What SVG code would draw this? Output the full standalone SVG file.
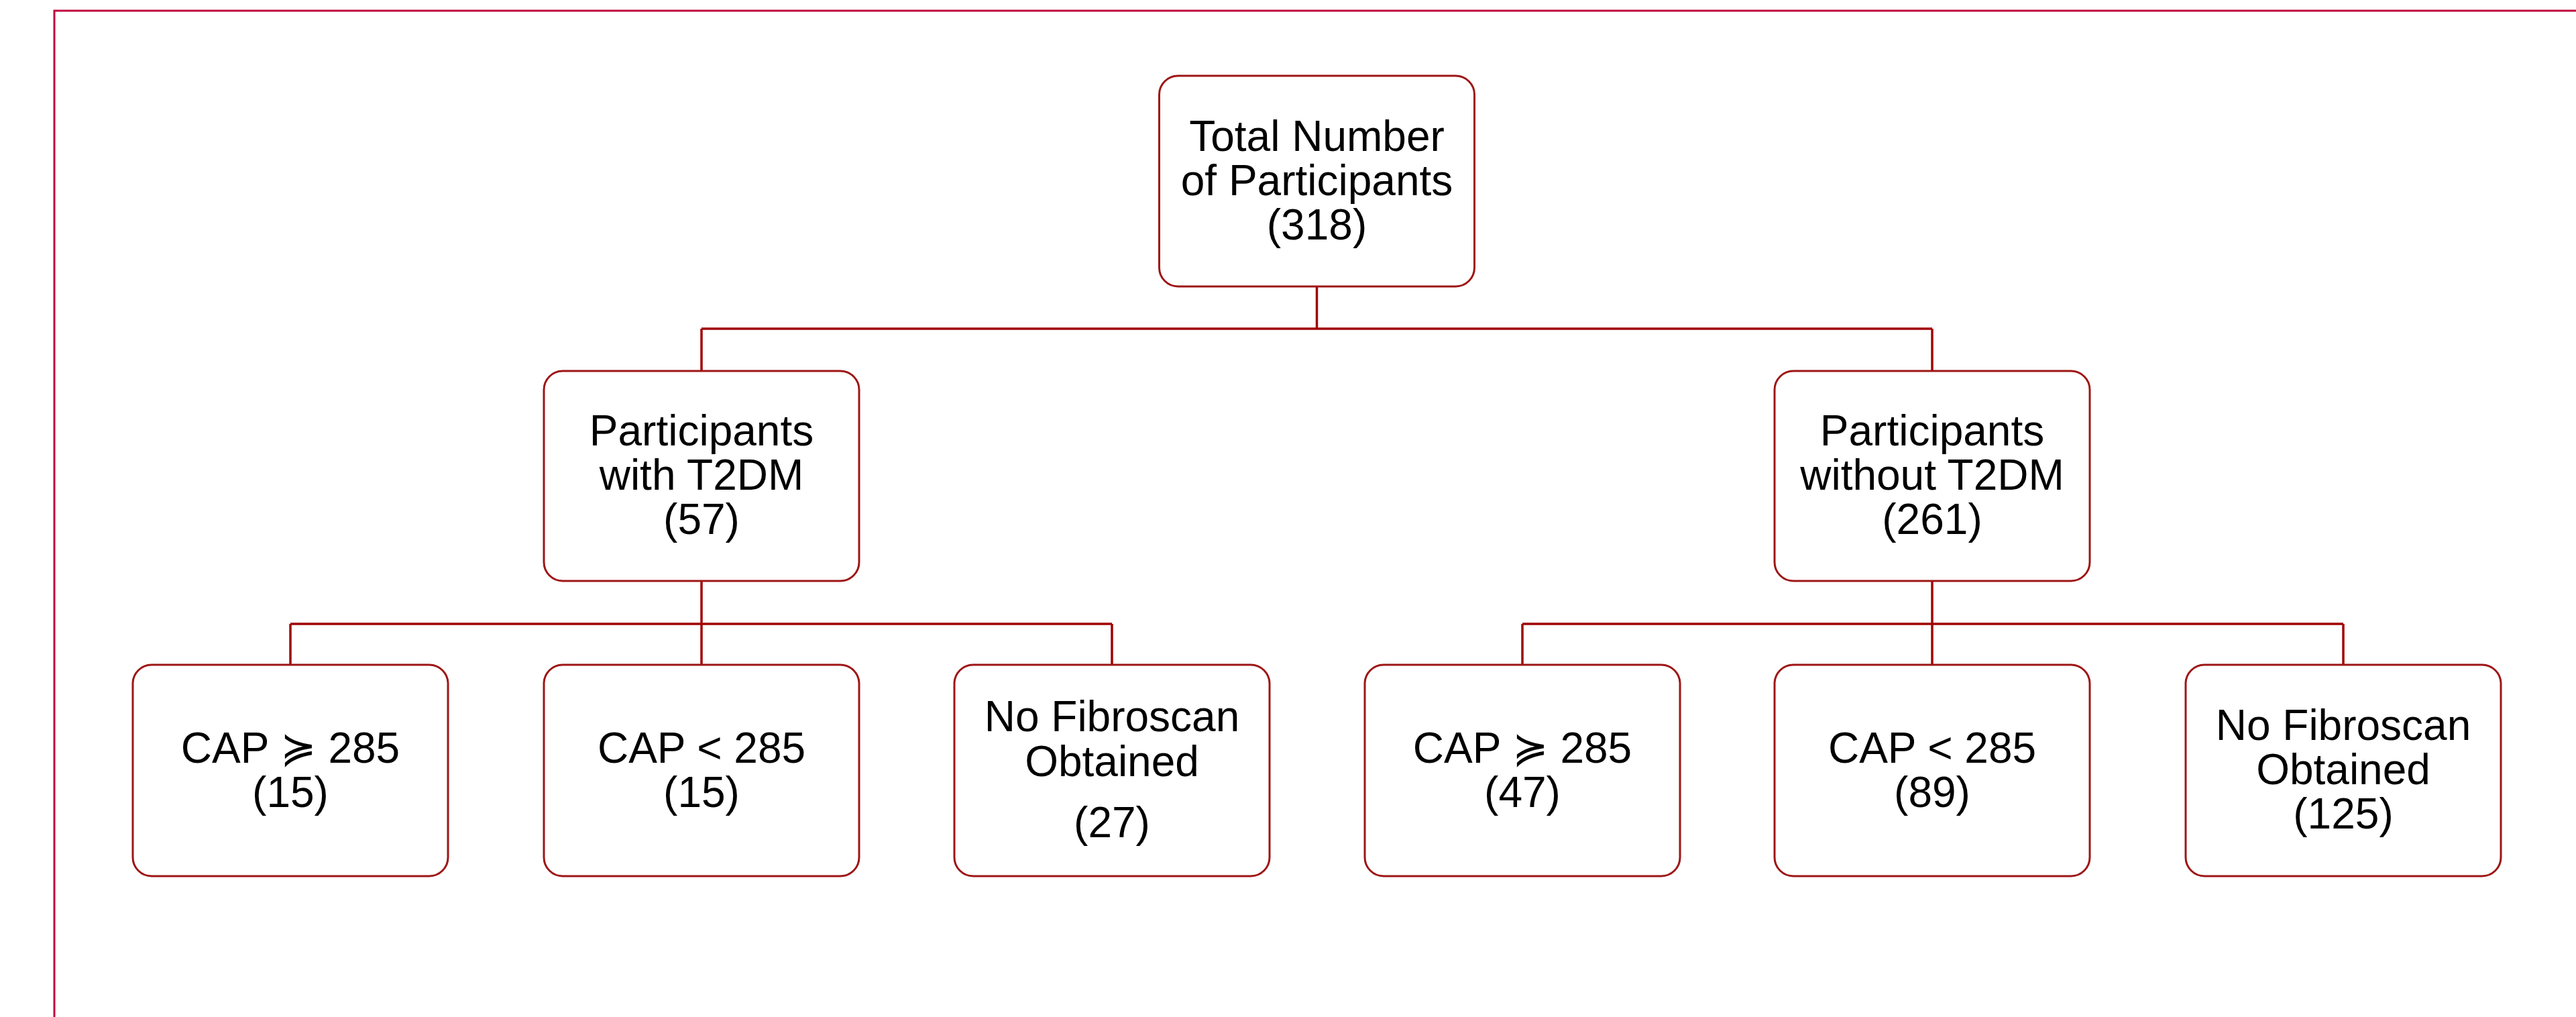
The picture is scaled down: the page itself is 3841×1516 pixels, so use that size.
<svg xmlns="http://www.w3.org/2000/svg" width="3841" height="1516" viewBox="0 0 3841 1516">
<style>
.box{fill:#ffffff;stroke:#9e1616;stroke-width:3}
.con{fill:none;stroke:#a00000;stroke-width:3.5}
.lbl{font-family:"Liberation Sans","DejaVu Sans",Arial,sans-serif;font-size:64px;fill:#000000;text-anchor:middle}
</style>
<rect width="3841" height="1516" fill="#ffffff"/>
<path d="M81 1516 V16 H3841" fill="none" stroke="#c0083e" stroke-width="3"/>
<g id="connectors">
<path class="con" d="M1963.5 427 V490 M1046 490 H2881 M1046 490 V553 M2881 490 V553"/>
<path class="con" d="M1046 866 V930 M433 930 H1658 M433 930 V991 M1046 930 V991 M1658 930 V991"/>
<path class="con" d="M2881 866 V930 M2270 930 H3494 M2270 930 V991 M2881 930 V991 M3494 930 V991"/>
</g>
<g id="n-total">
<rect class="box" x="1728.5" y="113" width="470" height="314" rx="28"/>
<text class="lbl" x="1963.5" y="225">Total Number</text>
<text class="lbl" x="1963.5" y="291">of Participants</text>
<text class="lbl" x="1963.5" y="357">(318)</text>
</g>
<g id="n-with">
<rect class="box" x="811" y="553" width="470" height="313" rx="28"/>
<text class="lbl" x="1046" y="664">Participants</text>
<text class="lbl" x="1046" y="730">with T2DM</text>
<text class="lbl" x="1046" y="796">(57)</text>
</g>
<g id="n-without">
<rect class="box" x="2646" y="553" width="470" height="313" rx="28"/>
<text class="lbl" x="2881" y="664">Participants</text>
<text class="lbl" x="2881" y="730">without T2DM</text>
<text class="lbl" x="2881" y="796">(261)</text>
</g>
<g id="n-w-cap-hi">
<rect class="box" x="198" y="991" width="470" height="315" rx="28"/>
<text class="lbl" x="433" y="1137">CAP ≽ 285</text>
<text class="lbl" x="433" y="1203">(15)</text>
</g>
<g id="n-w-cap-lo">
<rect class="box" x="811" y="991" width="470" height="315" rx="28"/>
<text class="lbl" x="1046" y="1137">CAP &lt; 285</text>
<text class="lbl" x="1046" y="1203">(15)</text>
</g>
<g id="n-w-nofib">
<rect class="box" x="1423" y="991" width="470" height="315" rx="28"/>
<text class="lbl" x="1658" y="1090">No Fibroscan</text>
<text class="lbl" x="1658" y="1157">Obtained</text>
<text class="lbl" x="1658" y="1248">(27)</text>
</g>
<g id="n-wo-cap-hi">
<rect class="box" x="2035" y="991" width="470" height="315" rx="28"/>
<text class="lbl" x="2270" y="1137">CAP ≽ 285</text>
<text class="lbl" x="2270" y="1203">(47)</text>
</g>
<g id="n-wo-cap-lo">
<rect class="box" x="2646" y="991" width="470" height="315" rx="28"/>
<text class="lbl" x="2881" y="1137">CAP &lt; 285</text>
<text class="lbl" x="2881" y="1203">(89)</text>
</g>
<g id="n-wo-nofib">
<rect class="box" x="3259" y="991" width="470" height="315" rx="28"/>
<text class="lbl" x="3494" y="1103">No Fibroscan</text>
<text class="lbl" x="3494" y="1169">Obtained</text>
<text class="lbl" x="3494" y="1235">(125)</text>
</g>
</svg>
